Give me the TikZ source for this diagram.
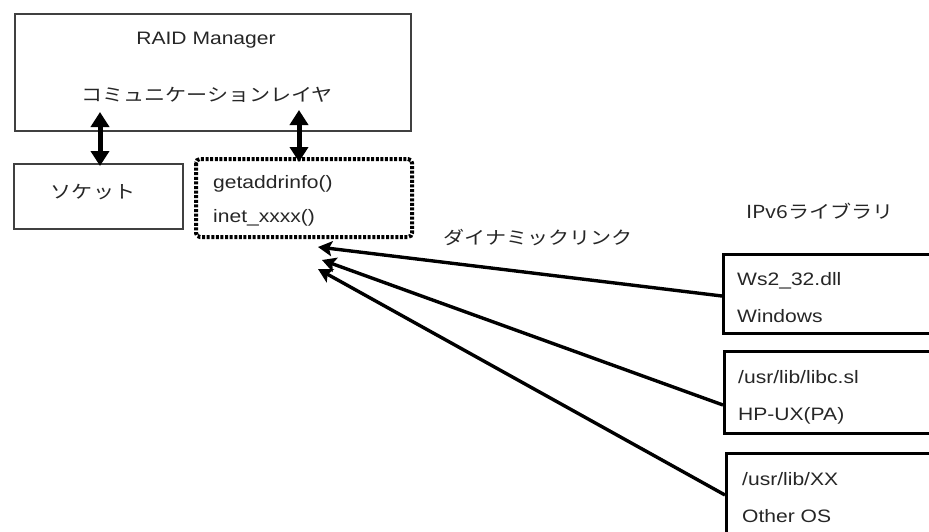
\documentclass[tikz,border=0pt]{standalone}
\usepackage{fontspec}
\setmainfont{Liberation Sans}[FakeStretch=1.17]
\newfontfamily\jp{Noto Sans CJK JP}[FakeStretch=1.17]
\usetikzlibrary{arrows.meta}
\tikzset{
  lbl/.style={inner sep=0pt, font=\fontsize{18}{20}\selectfont, text=black!85},
  jlbl/.style={inner sep=0pt, font=\fontsize{18}{20}\selectfont\jp, text=black!85},
  thinbox/.style={draw=black!75, line width=1.5pt, inner sep=0pt},
  libbox/.style={draw=black, line width=3pt, inner sep=0pt, anchor=north west},
  dbl/.style={line width=5pt, {Triangle[width=18pt,length=15pt]}-{Triangle[width=18pt,length=15pt]}},
  lnk/.style={line width=3.4pt, -{Stealth[width=15pt,length=14pt,inset=3pt]}},
}
\begin{document}
\begin{tikzpicture}[x=1pt,y=-1pt]
\useasboundingbox (0,0) rectangle (929,531);
\clip (0,0) rectangle (929,531);
% boxes
\node[thinbox, minimum width=396pt, minimum height=117pt, anchor=north west] (raid) at (14,13) {};
\node[thinbox, line width=2pt, minimum width=169pt, minimum height=65pt, anchor=north west] (sock) at (13,163) {};
\draw[line width=4pt, dash pattern=on 3pt off 1.6pt, rounded corners=4pt] (196,159) rectangle (412,237);
\node[inner sep=0pt, minimum width=216pt, minimum height=78pt, anchor=north west] (api) at (196,159) {};
\node[libbox, minimum width=240pt, minimum height=79pt] (win) at (722,253) {};
\node[libbox, minimum width=240pt, minimum height=82pt] (hp) at (723,350) {};
\node[libbox, minimum width=240pt, minimum height=100pt] (oth) at (725,452) {};
% texts
\node[lbl] (t1) at (206,40) {RAID Manager};
\node[jlbl] (t2) at (207,95) {コミュニケーションレイヤ};
\node[jlbl] (t3) at (93,192) {ソケット};
\node[lbl, anchor=base west] (t4) at (213,188) {getaddrinfo()};
\node[lbl, anchor=base west] (t5) at (213,222) {inet\_xxxx()};
\node[jlbl] (t6) at (538,238) {ダイナミックリンク};
\node[jlbl] (t7) at (820,211) {IPv6ライブラリ};
\node[lbl, anchor=base west] (w1) at (737,285) {Ws2\_32.dll};
\node[lbl, anchor=base west] (w2) at (737,322) {Windows};
\node[lbl, anchor=base west] (h1) at (738,383) {/usr/lib/libc.sl};
\node[lbl, anchor=base west] (h2) at (738,420) {HP-UX(PA)};
\node[lbl, anchor=base west] (o1) at (742,485) {/usr/lib/XX};
\node[lbl, anchor=base west] (o2) at (742,522) {Other OS};
% connectors
\coordinate (la) at (100,112);
\coordinate (lb) at (100,166);
\coordinate (ra) at (299,110);
\coordinate (rb) at (299,162);
\draw[dbl] (la) -- (lb);
\draw[dbl] (ra) -- (rb);
\coordinate (wE) at (722,296);
\coordinate (hE) at (723,405);
\coordinate (oE) at (725,495);
\coordinate (tipA) at (318,247);
\coordinate (tipB) at (322,260);
\coordinate (tipC) at (318,269);
\draw[lnk] (wE) -- (tipA);
\draw[lnk] (hE) -- (tipB);
\draw[lnk] (oE) -- (tipC);
\end{tikzpicture}
\end{document}
